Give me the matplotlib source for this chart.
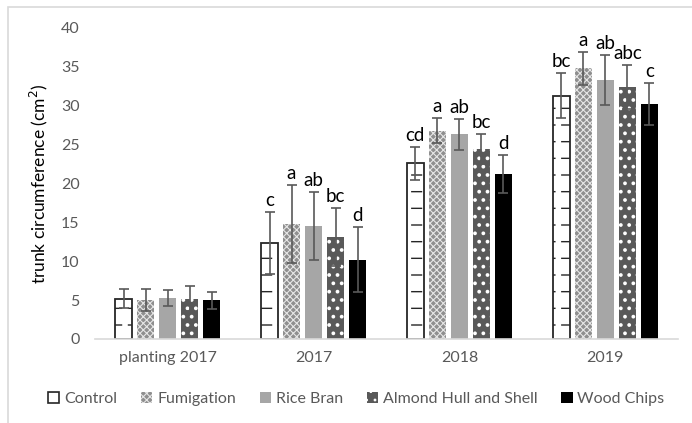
import matplotlib
matplotlib.use("Agg")
import matplotlib.pyplot as plt
import matplotlib.patches as mpatches
import numpy as np

plt.rcParams['font.family'] = ['Lato', 'DejaVu Sans']

groups = ["planting 2017", "2017", "2018", "2019"]
treatments = ["Control", "Fumigation", "Rice Bran", "Almond Hull and Shell", "Wood Chips"]

control    = [5.2, 12.3, 22.6, 31.3]
fumigation = [5.0, 14.8, 26.8, 34.8]
rice_bran  = [5.3, 14.5, 26.3, 33.3]
almond     = [5.2, 13.1, 24.4, 32.4]
wood_chips = [5.0, 10.2, 21.2, 30.2]

control_err    = [1.2, 4.0, 2.1, 2.9]
fumigation_err = [1.4, 5.0, 1.6, 2.1]
rice_bran_err  = [1.0, 4.4, 2.0, 3.2]
almond_err     = [1.6, 3.7, 1.9, 2.8]
wood_chips_err = [1.1, 4.2, 2.4, 2.7]

control_lab    = ["", "c", "cd", "bc"]
fumigation_lab = ["", "a", "a", "a"]
rice_bran_lab  = ["", "ab", "ab", "ab"]
almond_lab     = ["", "bc", "bc", "abc"]
wood_chips_lab = ["", "d", "d", "c"]

values = [control, fumigation, rice_bran, almond, wood_chips]
errors = [control_err, fumigation_err, rice_bran_err, almond_err, wood_chips_err]
letters = [control_lab, fumigation_lab, rice_bran_lab, almond_lab, wood_chips_lab]

styles = [
    dict(facecolor="white", edgecolor="#262626", hatch="-", linewidth=1.2),
    dict(facecolor="#8f8f8f", edgecolor="#e6e6e6", hatch="xxxxx", linewidth=0),
    dict(facecolor="#a6a6a6", edgecolor="#a6a6a6", linewidth=0),
    dict(facecolor="#595959", edgecolor="white", hatch="..", linewidth=0),
    dict(facecolor="black", edgecolor="black", linewidth=0),
]

fig = plt.figure(figsize=(6.92, 4.23), dpi=100)
ax = fig.add_axes([0.137, 0.1986, 0.843, 0.7354])

x = np.arange(len(groups))
step = 0.151
width = 0.117
for i in range(5):
    pos = x + (i - 2) * step
    if i == 0:
        # dashed look: black horizontal hatch cut by white vertical hatch, then outline
        plt.rcParams['hatch.linewidth'] = 1.0
        ax.bar(pos, values[i], width, facecolor="white", edgecolor="#262626",
               hatch="-", linewidth=0, zorder=2)
        plt.rcParams['hatch.linewidth'] = 4.0
        ax.bar(pos, values[i], width, facecolor="none", edgecolor="white",
               hatch="|", linewidth=0, zorder=2.1)
        ax.bar(pos, values[i], width, facecolor="none", edgecolor="#262626",
               linewidth=1.3, zorder=2.2)
    else:
        plt.rcParams['hatch.linewidth'] = 0.8 if i == 1 else 1.5
        ax.bar(pos, values[i], width, **styles[i], zorder=2)
    ax.errorbar(pos, values[i], yerr=errors[i], fmt="none", ecolor="#595959",
                elinewidth=1.2, capsize=3.5, capthick=1.2, zorder=3)
    for j in range(len(groups)):
        if letters[i][j]:
            ax.text(pos[j], values[i][j] + errors[i][j] + 0.4, letters[i][j],
                    ha="center", va="bottom", fontsize=13.5, color="black")

ax.set_xlim(-0.5, 3.5)
ax.set_ylim(0, 40)
ax.set_yticks(range(0, 41, 5))
ax.set_xticks(x)
ax.set_xticklabels(groups)
ax.tick_params(axis="both", length=0, labelsize=11.5, colors="#595959", pad=9)
ax.tick_params(axis="y", pad=11)
for s in ["top", "right", "left"]:
    ax.spines[s].set_visible(False)
ax.spines["bottom"].set_color("#d9d9d9")
ax.spines["bottom"].set_linewidth(1.2)
ax.set_ylabel("trunk circumference (cm$^2$)", fontsize=12.5, color="black", labelpad=8)

plt.rcParams['hatch.linewidth'] = 0.8
handles = [mpatches.Patch(**styles[i], label=treatments[i]) for i in range(5)]
leg = fig.legend(handles=handles, loc="center", bbox_to_anchor=(0.515, 0.057), ncol=5,
                 frameon=False, fontsize=11.5, handlelength=0.7, handleheight=0.7,
                 handletextpad=0.3, columnspacing=1.5)
for t in leg.get_texts():
    t.set_color("#595959")

fig.patches.append(mpatches.Rectangle((8 / 692, -0.1), 1.2, 1 - 7 / 423 + 0.1,
                                      transform=fig.transFigure, fill=False,
                                      edgecolor="#d9d9d9", linewidth=1.2))

fig.savefig("out.png", dpi=100)
